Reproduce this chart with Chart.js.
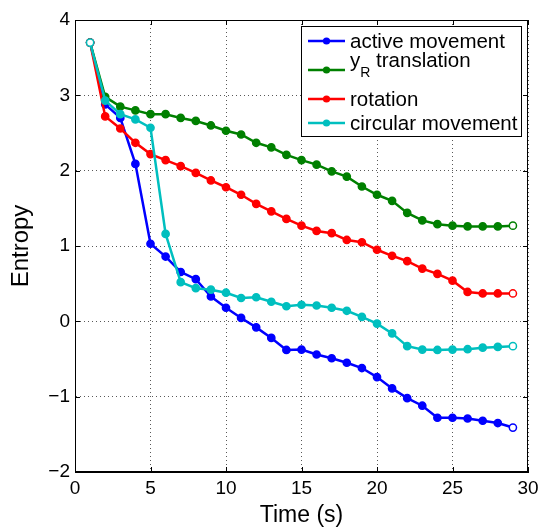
<!DOCTYPE html>
<html>
<head>
<meta charset="utf-8">
<script src="https://cdn.jsdelivr.net/npm/chart.js@4.4.1/dist/chart.umd.min.js"></script>
<style>
  html, body { margin: 0; padding: 0; background: #fff; }
  #wrap { width: 539px; height: 528px; }
</style>
</head>
<body>
<div id="wrap"><canvas id="chart" width="539" height="528"></canvas></div>
<script>
// time steps (s)
const times = [1, 2, 3, 4, 5, 6, 7, 8, 9, 10, 11, 12, 13, 14, 15,
  16, 17, 18, 19, 20, 21, 22, 23, 24, 25, 26, 27, 28, 29];

const activeMovement = [3.70, 2.88, 2.70, 2.09, 1.03, 0.86, 0.655, 0.56, 0.33, 0.18,
  0.045, -0.08, -0.22, -0.38, -0.375, -0.44, -0.49, -0.55, -0.62, -0.74,
  -0.89, -1.02, -1.12, -1.28, -1.28, -1.29, -1.32, -1.35, -1.41];

const yrTranslation = [3.70, 2.98, 2.85, 2.80, 2.75, 2.75, 2.70, 2.66, 2.60, 2.53,
  2.48, 2.37, 2.31, 2.21, 2.14, 2.08, 1.99, 1.92, 1.79, 1.68,
  1.60, 1.44, 1.34, 1.29, 1.27, 1.26, 1.26, 1.26, 1.27];

const rotation = [3.70, 2.72, 2.56, 2.37, 2.22, 2.14, 2.06, 1.97, 1.87, 1.78,
  1.68, 1.56, 1.46, 1.36, 1.27, 1.20, 1.17, 1.08, 1.05, 0.95,
  0.87, 0.80, 0.70, 0.63, 0.54, 0.39, 0.37, 0.37, 0.37];

const circularMovement = [3.70, 2.93, 2.75, 2.68, 2.57, 1.16, 0.52, 0.44, 0.42, 0.38,
  0.31, 0.32, 0.26, 0.20, 0.22, 0.21, 0.18, 0.14, 0.06, -0.03,
  -0.16, -0.33, -0.375, -0.38, -0.375, -0.37, -0.35, -0.34, -0.33];

const seriesNames = ['active movement', 'y_R translation', 'rotation', 'circular movement'];
const seriesColors = ['#0000ff', '#008000', '#ff0000', '#00bfbf'];
const xTicks = [0, 5, 10, 15, 20, 25, 30];
const yTicks = [-2, -1, 0, 1, 2, 3, 4];

const FONT = 'Liberation Sans, Arial, Helvetica, sans-serif';

function makeSet(i, values) {
  const last = values.length - 1;
  return {
    label: seriesNames[i],
    data: times.map((t, k) => ({ x: t, y: values[k] })),
    borderColor: seriesColors[i],
    backgroundColor: seriesColors[i],
    borderWidth: 2.5,
    pointRadius: 3.6,
    pointBorderWidth: 1.5,
    pointBackgroundColor: (ctx) => (ctx.dataIndex === 0 || ctx.dataIndex === last) ? '#ffffff' : seriesColors[i],
    pointBorderColor: seriesColors[i],
    tension: 0,
    order: 3 - i,
  };
}

// black frame with inward ticks on all four sides
const framePlugin = {
  id: 'frame',
  afterDatasetsDraw(chart) {
    const { ctx, chartArea: a, scales } = chart;
    ctx.save();
    ctx.strokeStyle = '#000';
    ctx.lineWidth = 1;
    ctx.strokeRect(a.left + 0.5, a.top + 0.5, a.right - a.left - 1, a.bottom - a.top - 1);
    ctx.beginPath();
    xTicks.forEach(v => {
      const px = Math.round(scales.x.getPixelForValue(v)) + 0.5;
      ctx.moveTo(px, a.bottom); ctx.lineTo(px, a.bottom - 5);
      ctx.moveTo(px, a.top); ctx.lineTo(px, a.top + 5);
    });
    yTicks.forEach(v => {
      const py = Math.round(scales.y.getPixelForValue(v)) + 0.5;
      ctx.moveTo(a.left, py); ctx.lineTo(a.left + 5, py);
      ctx.moveTo(a.right, py); ctx.lineTo(a.right - 5, py);
    });
    ctx.stroke();
    ctx.restore();
  }
};

// boxed legend in the upper right, with subscript support
const legendPlugin = {
  id: 'boxLegend',
  afterDraw(chart) {
    const { ctx, chartArea: a } = chart;
    const boxR = a.right - 6, boxL = boxR - 221, boxT = a.top + 6, boxB = boxT + 111;
    const rows = [15, 44, 73, 97];
    ctx.save();
    ctx.fillStyle = '#fff';
    ctx.fillRect(boxL, boxT, boxR - boxL, boxB - boxT);
    ctx.strokeStyle = '#000';
    ctx.lineWidth = 1;
    ctx.strokeRect(boxL + 0.5, boxT + 0.5, boxR - boxL - 1, boxB - boxT - 1);
    chart.data.datasets.forEach((ds, i) => {
      const y = boxT + rows[i];
      ctx.strokeStyle = ds.borderColor;
      ctx.fillStyle = ds.borderColor;
      ctx.lineWidth = 2.5;
      ctx.beginPath();
      ctx.moveTo(boxL + 7, y); ctx.lineTo(boxL + 44, y);
      ctx.stroke();
      ctx.beginPath();
      ctx.arc(boxL + 25.5, y, 3.6, 0, Math.PI * 2);
      ctx.fill();
      ctx.fillStyle = '#000';
      ctx.textBaseline = 'alphabetic';
      ctx.textAlign = 'left';
      const tx = boxL + 49;
      const label = ds.label;
      if (label.includes('_')) {
        const [main, rest] = label.split('_');
        const sub = rest.charAt(0);
        const tail = rest.slice(1);
        ctx.font = '20.5px ' + FONT;
        ctx.fillText(main, tx, y - 3);
        const w1 = ctx.measureText(main).width;
        ctx.font = '14px ' + FONT;
        ctx.fillText(sub, tx + w1, y + 7);
        const w2 = ctx.measureText(sub).width;
        ctx.font = '20.5px ' + FONT;
        ctx.fillText(tail, tx + w1 + w2, y - 3);
      } else {
        ctx.font = '20.5px ' + FONT;
        ctx.fillText(label, tx, y + 7);
      }
    });
    ctx.restore();
  }
};

const minus = v => String(v).replace('-', '\u2212');

new Chart(document.getElementById('chart').getContext('2d'), {
  type: 'line',
  data: {
    datasets: [
      makeSet(0, activeMovement),
      makeSet(1, yrTranslation),
      makeSet(2, rotation),
      makeSet(3, circularMovement),
    ]
  },
  plugins: [framePlugin, legendPlugin],
  options: {
    responsive: false,
    animation: false,
    layout: { padding: { top: 20, right: 11, left: 0, bottom: 0 } },
    plugins: { legend: { display: false }, tooltip: { enabled: false } },
    scales: {
      x: {
        type: 'linear',
        min: 0, max: 30,
        afterBuildTicks: (s) => { s.ticks = xTicks.map(v => ({ value: v })); },
        afterFit: (s) => { s.height = 56; s.paddingLeft = 0; s.paddingRight = 0; },
        ticks: { color: '#000', padding: 5, font: { family: FONT, size: 19 }, callback: minus, maxRotation: 0 },
        grid: { color: 'rgba(0,0,0,0.65)', lineWidth: 1, drawTicks: false },
        border: { display: true, color: '#000', width: 1, dash: [1, 3] },
        title: { display: true, text: 'Time (s)', color: '#000', font: { family: FONT, size: 23, lineHeight: 1 }, padding: { top: 0, bottom: 1 } }
      },
      y: {
        min: -2, max: 4,
        afterBuildTicks: (s) => { s.ticks = yTicks.map(v => ({ value: v })); },
        afterFit: (s) => { s.width = 75; s.paddingTop = 0; s.paddingBottom = 0; },
        ticks: { color: '#000', padding: 5, font: { family: FONT, size: 19 }, callback: minus },
        grid: { color: 'rgba(0,0,0,0.65)', lineWidth: 1, drawTicks: false },
        border: { display: true, color: '#000', width: 1, dash: [1, 3] },
        title: { display: true, text: 'Entropy', color: '#000', font: { family: FONT, size: 24, lineHeight: 1 }, padding: { top: 9.5, bottom: 0 } }
      }
    }
  }
});
</script>
</body>
</html>
